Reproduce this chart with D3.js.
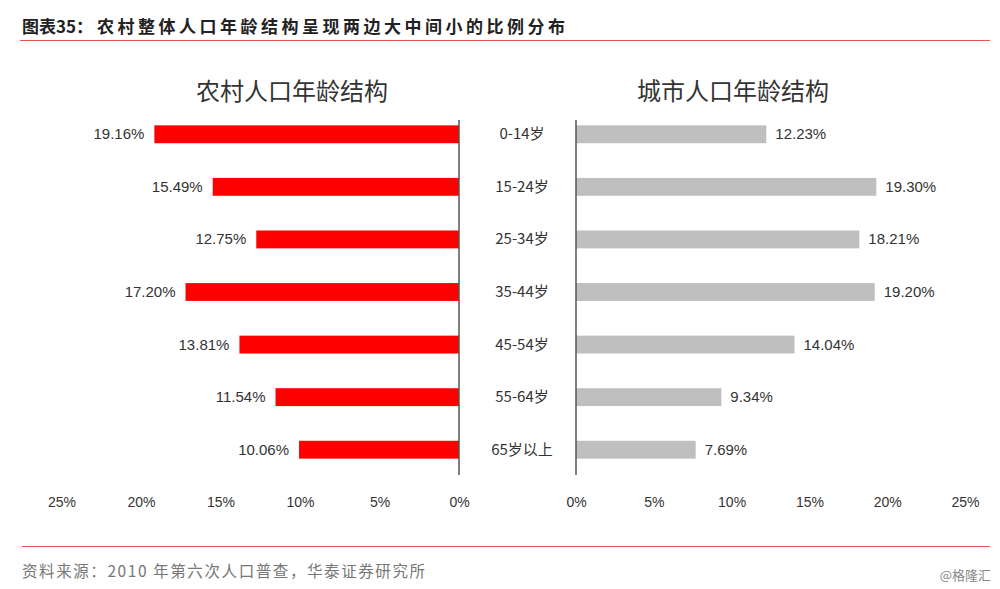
<!DOCTYPE html>
<html><head><meta charset="utf-8">
<script src="https://cdn.jsdelivr.net/npm/d3@7"></script>
<style>body{margin:0;background:#fff}svg{display:block}</style>
</head><body><svg id="c" width="1000" height="589"></svg>
<script>
const categories = ["0-14岁","15-24岁","25-34岁","35-44岁","45-54岁","55-64岁","65岁以上"];
const ruralValues = [19.16,15.49,12.75,17.20,13.81,11.54,10.06];
const urbanValues = [12.23,19.30,18.21,19.20,14.04,9.34,7.69];
const tickValues = [0,5,10,15,20,25];
const ruralTitle = "农村人口年龄结构";
const urbanTitle = "城市人口年龄结构";
const source = "资料来源：2010 年第六次人口普查，华泰证券研究所";
const watermark = "@格隆汇";

const svg = d3.select("#c");
const cjk = "'Noto Sans CJK SC','Noto Sans',sans-serif";
const num = "'Liberation Sans Narrow','Liberation Sans','Noto Sans CJK SC',sans-serif";

// header
svg.append("text").attr("x",22).attr("y",33).attr("font-family",cjk).attr("font-weight","bold")
  .attr("font-size",17).attr("fill","#222").text("图表35：");
svg.append("text").attr("x",97).attr("y",33).attr("font-family",cjk).attr("font-weight","bold")
  .attr("font-size",17).attr("fill","#222").attr("textLength",468).attr("lengthAdjust","spacing")
  .text("农村整体人口年龄结构呈现两边大中间小的比例分布");
svg.append("line").attr("x1",20).attr("x2",990).attr("y1",40.5).attr("y2",40.5).attr("stroke","#E4574B").attr("stroke-width",1.2);
svg.append("line").attr("x1",22).attr("x2",990).attr("y1",546.5).attr("y2",546.5).attr("stroke","#E4574B").attr("stroke-width",1.2);
svg.append("text").attr("x",22).attr("y",577).attr("font-family",cjk).attr("font-size",15.5)
  .attr("fill","#777").attr("textLength",403).attr("lengthAdjust","spacing").text(source);
svg.append("text").attr("x",991).attr("y",580).attr("text-anchor","end").attr("font-family",cjk).attr("font-size",13)
  .attr("fill","#888").text(watermark);

const y = d3.scaleBand().domain(categories).range([108,476]).paddingInner(0.66).paddingOuter(0.33);
const xL = d3.scaleLinear().domain([0,25]).range([459,61.5]);
const xR = d3.scaleLinear().domain([0,25]).range([576,965]);

// rural
const gL = svg.append("g");
gL.selectAll("rect").data(ruralValues).join("rect")
  .attr("x",d=>xL(d)).attr("width",d=>xL(0)-xL(d))
  .attr("y",(d,i)=>y(categories[i])).attr("height",y.bandwidth()).attr("fill","#FF0000");
gL.selectAll("text.v").data(ruralValues).join("text").attr("class","v")
  .attr("x",d=>xL(d)-10).attr("y",(d,i)=>y(categories[i])+y.bandwidth()/2+5)
  .attr("text-anchor","end").attr("font-family",num).attr("font-size",15).attr("fill","#333")
  .text(d=>d.toFixed(2)+"%");
svg.append("g").attr("transform","translate(0,499)")
  .call(d3.axisBottom(xL).tickValues(tickValues).tickFormat(d=>d+"%").tickSize(0))
  .call(g=>g.select(".domain").remove())
  .call(g=>g.selectAll("text").attr("font-family",num).attr("font-size",14).attr("fill","#333").attr("dy","0.35em"));
svg.append("line").attr("x1",xL(0)).attr("x2",xL(0)).attr("y1",120).attr("y2",475).attr("stroke","#555").attr("stroke-width",1.5);

// urban
const gR = svg.append("g");
gR.selectAll("rect").data(urbanValues).join("rect")
  .attr("x",xR(0)).attr("width",d=>xR(d)-xR(0))
  .attr("y",(d,i)=>y(categories[i])).attr("height",y.bandwidth()).attr("fill","#BFBFBF");
gR.selectAll("text.v").data(urbanValues).join("text").attr("class","v")
  .attr("x",d=>xR(d)+9).attr("y",(d,i)=>y(categories[i])+y.bandwidth()/2+5)
  .attr("text-anchor","start").attr("font-family",num).attr("font-size",15).attr("fill","#333")
  .text(d=>d.toFixed(2)+"%");
svg.append("g").attr("transform","translate(0,499)")
  .call(d3.axisBottom(xR).tickValues(tickValues).tickFormat(d=>d+"%").tickSize(0))
  .call(g=>g.select(".domain").remove())
  .call(g=>g.selectAll("text").attr("font-family",num).attr("font-size",14).attr("fill","#333").attr("dy","0.35em"));
svg.append("line").attr("x1",xR(0)).attr("x2",xR(0)).attr("y1",120).attr("y2",475).attr("stroke","#555").attr("stroke-width",1.5);

// categories
svg.selectAll("text.cat").data(categories).join("text").attr("class","cat")
  .attr("x",522).attr("y",d=>y(d)+y.bandwidth()/2+5).attr("text-anchor","middle")
  .attr("font-family",cjk).attr("font-size",15).attr("fill","#333").text(d=>d);

// subtitles
svg.append("text").attr("x",292).attr("y",100).attr("text-anchor","middle").attr("font-family",cjk)
  .attr("font-size",24).attr("fill","#333").text(ruralTitle);
svg.append("text").attr("x",733).attr("y",100).attr("text-anchor","middle").attr("font-family",cjk)
  .attr("font-size",24).attr("fill","#333").text(urbanTitle);
</script></body></html>
